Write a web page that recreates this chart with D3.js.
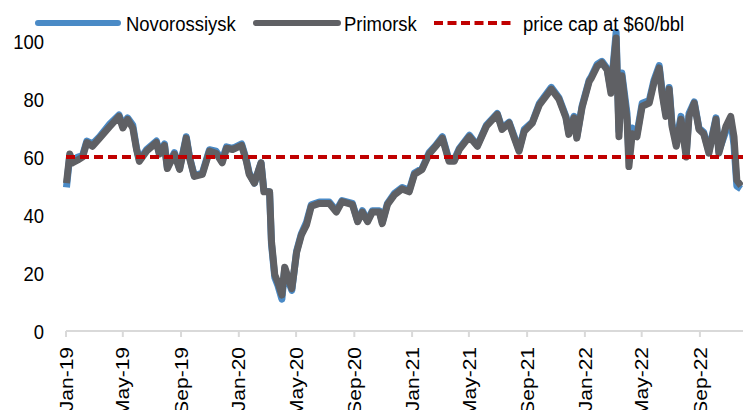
<!DOCTYPE html>
<html>
<head>
<meta charset="utf-8">
<script src="https://cdn.jsdelivr.net/npm/d3@7"></script>
<style>
  body { margin: 0; background: #fff; }
  text { font-family: "Liberation Sans", Arial, sans-serif; fill: #000; }
</style>
</head>
<body>
<div class="chart"></div>
<script>
var width = 743,
    height = 410;

// Weekly-ish readings, USD/bbl
var dates = [
  "2019-01-02","2019-01-09","2019-01-15","2019-01-26","2019-02-05","2019-02-14","2019-02-26","2019-03-13",
  "2019-04-04","2019-04-23","2019-05-01","2019-05-11","2019-05-22","2019-05-30","2019-06-05","2019-06-20",
  "2019-07-11","2019-07-17","2019-07-28","2019-08-03","2019-08-18","2019-08-29","2019-09-12","2019-09-19",
  "2019-09-29","2019-10-16","2019-10-31","2019-11-14","2019-11-27","2019-12-06","2019-12-19","2020-01-07",
  "2020-01-17","2020-01-23","2020-02-03","2020-02-17","2020-02-23","2020-03-06","2020-03-10","2020-03-17",
  "2020-03-23","2020-04-01","2020-04-07","2020-04-13","2020-04-22","2020-05-02","2020-05-12","2020-05-23",
  "2020-06-02","2020-06-19","2020-07-10","2020-07-25","2020-08-06","2020-08-28","2020-09-08","2020-09-18",
  "2020-09-29","2020-10-09","2020-10-24","2020-10-30","2020-11-10","2020-11-25","2020-12-11","2020-12-26",
  "2021-01-06","2021-01-22","2021-02-06","2021-02-20","2021-03-06","2021-03-20","2021-03-31","2021-04-11",
  "2021-05-02","2021-05-19","2021-06-07","2021-06-30","2021-07-10","2021-07-25","2021-08-05","2021-08-15",
  "2021-08-26","2021-09-12","2021-09-27","2021-10-22","2021-11-07","2021-11-22","2021-11-28","2021-12-09",
  "2021-12-15","2021-12-26","2022-01-10","2022-01-14","2022-01-27","2022-02-06","2022-02-17","2022-02-25",
  "2022-03-08","2022-03-14","2022-03-20","2022-03-31","2022-04-04","2022-04-11","2022-04-21","2022-05-02",
  "2022-05-17","2022-05-27","2022-06-07","2022-06-13","2022-06-21","2022-06-28","2022-07-04","2022-07-13",
  "2022-07-23","2022-08-03","2022-08-09","2022-08-20","2022-08-30","2022-09-09","2022-09-20","2022-10-05",
  "2022-10-11","2022-10-26","2022-11-05","2022-11-12","2022-11-18","2022-11-27"
];

var primorsk = [
  51, 61, 58, 59, 60, 65, 63.7, 66.5,
  70.6, 74, 70, 73, 70, 62.6, 58.5, 62,
  65, 61, 64, 56, 61, 55.7, 66.5, 59.6,
  53.3, 54, 62, 61.3, 58, 63, 62.6, 64,
  58.5, 54, 51, 58, 48, 48, 31, 19.4,
  17, 12.4, 22, 19, 14.6, 27, 33, 36.6,
  43, 44, 44, 41, 44.6, 43.6, 37.7, 41,
  37.7, 41, 41, 37, 43.6, 47, 49, 48,
  54, 55.7, 61, 63.7, 66.5, 58.5, 58.5, 62.6,
  67, 63.7, 70.6, 74.7, 69.5, 71.7, 66.5, 62,
  68.9, 71.7, 78, 83.4, 80, 73.5, 67.8, 73.5,
  66.5, 77, 86, 87, 91.3, 92.5, 90, 82,
  101, 67, 88, 73, 56.7, 68, 67, 77.5,
  78.6, 85.6, 90.7, 82, 74, 83.4, 70.6, 63.7,
  73, 60, 74, 78.6, 69.5, 68, 61.3, 73,
  61.3, 70.6, 74, 67, 52, 50
];

var novorossiysk = [
  49.5, 60.5, 58.5, 60, 60.5, 65.5, 64.5, 67,
  71.5, 74.5, 71, 73.5, 71, 63, 59, 62.5,
  65.5, 61.5, 64.5, 56.5, 61.5, 56, 67, 60,
  53.5, 54.5, 62.5, 62, 59, 63.5, 63, 64.5,
  59, 54.5, 51, 58, 48.5, 48, 30, 18.5,
  16, 11, 21.5, 18, 14, 27.5, 33.5, 37.5,
  43.5, 44.5, 44.5, 41.5, 45, 44, 38, 41.5,
  38, 41.5, 41.5, 37.5, 44, 47.5, 49.5, 48.5,
  54.5, 56, 61.5, 64, 67, 59, 59, 63,
  67.5, 64, 71, 75, 70, 72, 67, 62.5,
  69.5, 72, 78.5, 84, 80.5, 74, 68.5, 74,
  67, 77.5, 86.5, 87.5, 92, 93, 90.5, 83,
  103, 69, 89, 75, 60, 70, 68, 78.5,
  79.5, 86.5, 91.5, 83, 75, 84, 71.5, 65,
  74, 61, 75, 79, 70, 68.5, 62, 73.5,
  62, 69, 73, 64, 50, 49
];

var priceCap = 60;

var legendItems = ["Novorossiysk", "Primorsk", "price cap at $60/bbl"];
var yTicks = [0, 20, 40, 60, 80, 100];

var parse = d3.timeParse("%Y-%m-%d");
var series = dates.map(function(d, i) {
  return { date: parse(d), prim: primorsk[i], novo: novorossiysk[i] };
});

var svg = d3.select(".chart")
  .append("svg")
    .attr("width", width)
    .attr("height", height);

var x = d3.scaleTime()
  .domain([new Date(2019, 0, 1), new Date(2022, 11, 1)])
  .range([66, 743]);

var y = d3.scaleLinear()
  .domain([0, 100])
  .range([331, 41]);

var sx = 0.88; // the source image is squeezed horizontally

// x axis line + ticks
svg.append("line")
  .attr("x1", x.range()[0]).attr("x2", x.range()[1])
  .attr("y1", y(0)).attr("y2", y(0))
  .attr("stroke", "#d9d9d9")
  .attr("stroke-width", 2);

var xTicks = x.ticks(d3.timeMonth.every(4));

svg.selectAll(".xtick")
  .data(xTicks)
  .enter()
  .append("line")
  .attr("x1", function(d) { return x(d); })
  .attr("x2", function(d) { return x(d); })
  .attr("y1", y(0))
  .attr("y2", y(0) + 6)
  .attr("stroke", "#d9d9d9")
  .attr("stroke-width", 2);

svg.selectAll(".xlabel")
  .data(xTicks)
  .enter()
  .append("text")
  .attr("transform", function(d) {
    return "translate(" + x(d) + "," + (y(0) + 16) + ") scale(" + sx + ",1) rotate(-90)";
  })
  .attr("text-anchor", "end")
  .attr("dy", "0.36em")
  .style("font-size", "21px")
  .text(d3.timeFormat("%b-%y"));

// y labels (no axis line)
svg.selectAll(".ylabel")
  .data(yTicks)
  .enter()
  .append("text")
  .attr("transform", function(d) { return "translate(44," + y(d) + ") scale(" + sx + ",1)"; })
  .attr("text-anchor", "end")
  .attr("dy", "0.36em")
  .style("font-size", "21px")
  .text(function(d) { return d; });

// lines
var lineNovo = d3.line()
  .x(function(d) { return x(d.date); })
  .y(function(d) { return y(d.novo); });

var linePrim = d3.line()
  .x(function(d) { return x(d.date); })
  .y(function(d) { return y(d.prim); });

svg.append("path")
  .datum(series)
  .attr("d", lineNovo)
  .attr("fill", "none")
  .attr("stroke", "#4a8ac6")
  .attr("stroke-width", 7)
  .attr("stroke-linejoin", "round");

svg.append("path")
  .datum(series)
  .attr("d", linePrim)
  .attr("fill", "none")
  .attr("stroke", "#5f6064")
  .attr("stroke-width", 7)
  .attr("stroke-linejoin", "round");

// price cap
svg.append("line")
  .attr("x1", x.range()[0]).attr("x2", x.range()[1])
  .attr("y1", y(priceCap)).attr("y2", y(priceCap))
  .attr("stroke", "#c00000")
  .attr("stroke-width", 4)
  .attr("stroke-dasharray", "9,5");

// legend
var legend = [
  { label: legendItems[0], x1: 38, x2: 118, tx: 126, color: "#4a8ac6", dash: null },
  { label: legendItems[1], x1: 256, x2: 338, tx: 344, color: "#5f6064", dash: null },
  { label: legendItems[2], x1: 434, x2: 514, tx: 523, color: "#c00000", dash: "9,4.5" }
];

legend.forEach(function(l) {
  svg.append("line")
    .attr("x1", l.x1).attr("x2", l.x2)
    .attr("y1", 23).attr("y2", 23)
    .attr("stroke", l.color)
    .attr("stroke-width", l.dash ? 4 : 6)
    .attr("stroke-linecap", l.dash ? "butt" : "round")
    .attr("stroke-dasharray", l.dash);
  svg.append("text")
    .attr("transform", "translate(" + l.tx + ",31) scale(" + sx + ",1)")
    .style("font-size", "21px")
    .text(l.label);
});
</script>
</body>
</html>
